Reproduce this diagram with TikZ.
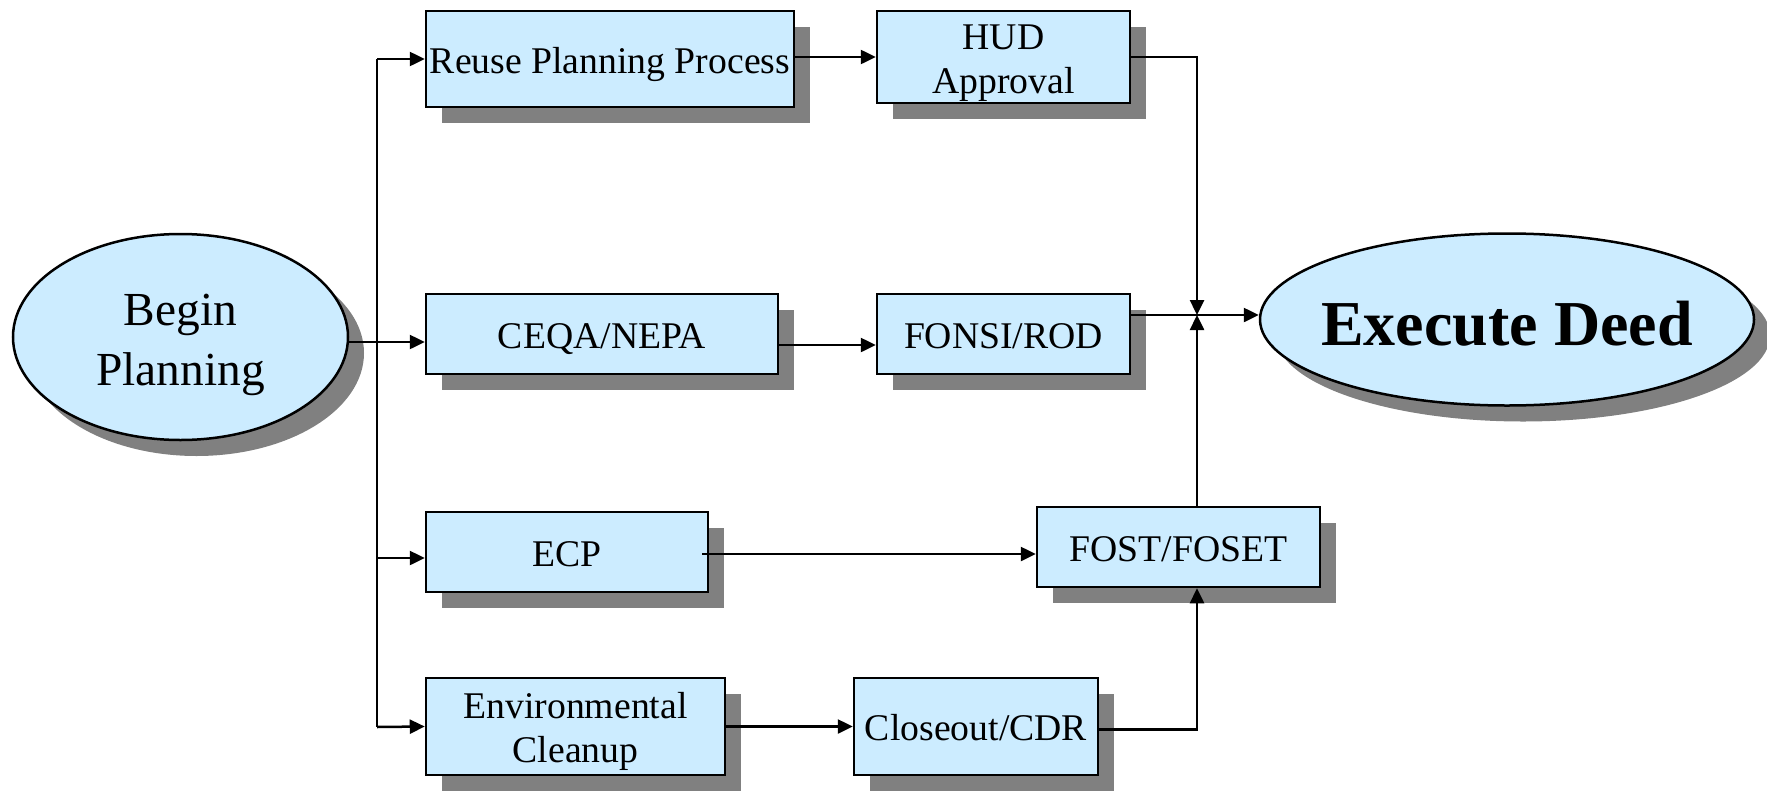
\documentclass[tikz,border=0pt]{standalone}
\usepackage{fontspec}
\setmainfont{Liberation Serif}
\usetikzlibrary{shapes.geometric,shadows,arrows.meta}
\definecolor{boxfill}{RGB}{204,236,255}
\definecolor{shadowgray}{RGB}{128,128,128}
\begin{document}
\begin{tikzpicture}[x=1pt,y=-1pt,
  shad/.style={drop shadow={shadow xshift=16pt,shadow yshift=-16pt,fill=shadowgray,opacity=1}},
  box/.style={rectangle,draw=black,line width=2.5pt,fill=boxfill,inner sep=0pt,align=center,
    font=\fontsize{37.7}{44}\selectfont,shad,text height=28.9pt,text depth=0pt},
  twoline/.style={text height=72.9pt,text depth=0pt},
  oval/.style={ellipse,draw=black,line width=2.5pt,fill=boxfill,inner sep=0pt,align=center,shad},
  conn/.style={line width=2.5pt},
  arr/.style={conn,-{Triangle[length=15pt,width=14pt]}}]
\useasboundingbox (0,0) rectangle (1767,790);
% boxes
\node[box,minimum width=368pt,minimum height=96pt] (reuse) at (610,59) {Reuse Planning Process};
\node[box,twoline,minimum width=253pt,minimum height=92pt] (hud) at (1003.5,57) {HUD\\Approval};
\node[box,minimum width=352pt,minimum height=80pt] (ceqa) at (602,334) {CEQA/NEPA};
\node[box,minimum width=253pt,minimum height=80pt] (fonsi) at (1003.5,334) {FONSI/ROD};
\node[box,minimum width=282pt,minimum height=80pt] (ecp) at (567,552) {ECP};
\node[box,minimum width=283pt,minimum height=80pt] (fost) at (1178.5,547) {FOST/FOSET};
\node[box,twoline,minimum width=299pt,minimum height=97pt] (env) at (575.5,726.5) {Environmental\\Cleanup};
\node[box,minimum width=244pt,minimum height=97pt] (close) at (976,726.5) {Closeout/CDR};
% ellipses
\node[oval,minimum width=335pt,minimum height=206pt,font=\fontsize{47.4}{60}\selectfont,
  text height=96pt,text depth=0pt] (begin) at (180.5,337) {Begin\\Planning};
\node[oval,minimum width=494pt,minimum height=172pt,font=\bfseries\fontsize{64}{70}\selectfont,
  text height=51.2pt,text depth=0pt] (exec) at (1507,319.5) {\makebox[0pt]{Execute Deed}};
% left trunk
\coordinate (tt) at (377,59);
\coordinate (tb) at (377,727);
\draw[conn] (tt) -- (tb);
\draw[arr] (tt) -- (reuse.west);
\coordinate (ecpin) at ([yshift=-6pt]ecp.west);
\draw[arr] (ecpin -| tt) -- (ecpin);
\draw[arr] (tb) -- (env.west);
\coordinate (bpout) at ([yshift=-5pt]begin.east);
\draw[arr] (bpout) -- (bpout -| ceqa.west);
% middle connectors
\draw[arr] (reuse.east |- hud.west) -- (hud.west);
\coordinate (ceqaout) at ([yshift=-11pt]ceqa.east);
\draw[arr] (ceqaout) -- (ceqaout -| fonsi.west);
\coordinate (ecpout) at ([xshift=-7pt,yshift=-2pt]ecp.east);
\draw[arr] (ecpout) -- (ecpout -| fost.west);
\draw[arr] (env.east) -- (close.west);
% right side
\coordinate (j) at (1197,315);
\draw[arr] (hud.east) -- (hud.east -| j) -- (j);
\draw[arr] (j |- fost.north) -- (j);
\draw[arr] (fonsi.east |- j) -- (j -| exec.west);
\coordinate (closeout) at ([yshift=-3pt]close.east);
\draw[arr] (closeout) -- (closeout -| j) -- (j |- fost.south);
\end{tikzpicture}
\end{document}
